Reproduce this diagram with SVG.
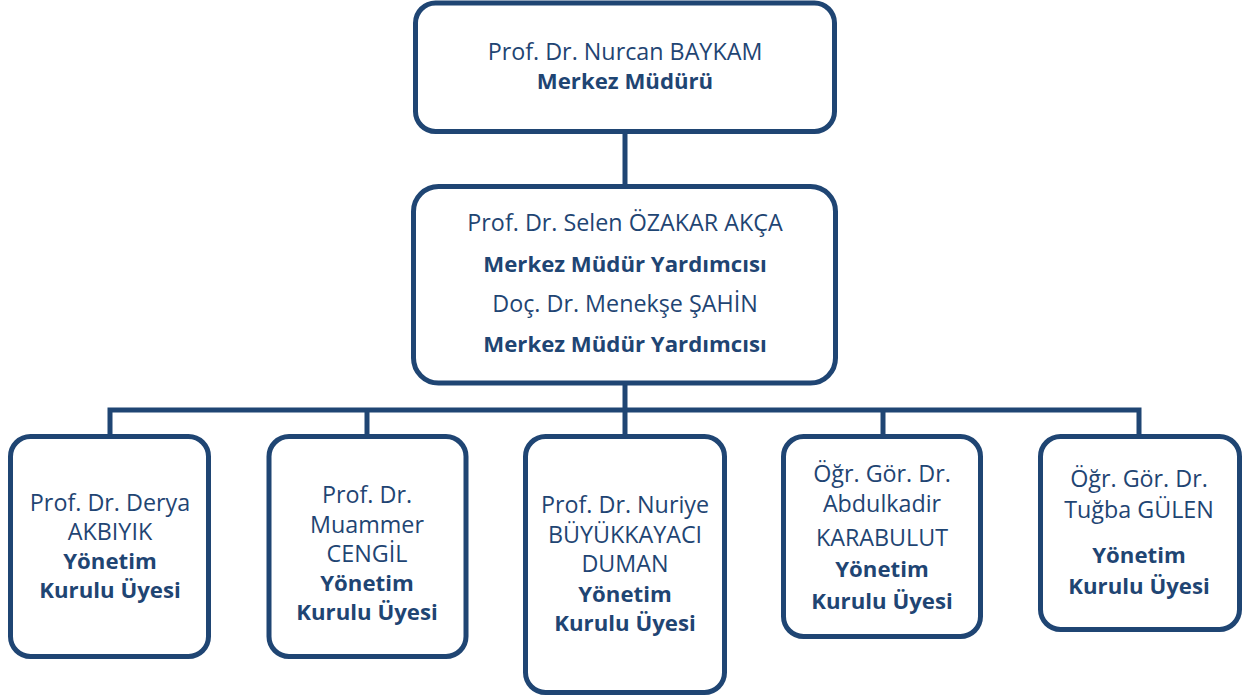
<svg xmlns="http://www.w3.org/2000/svg" width="1247" height="699" viewBox="0 0 1247 699">
<style>
.box{fill:#fff;stroke:#1f4573;stroke-width:5}
.ln{fill:none;stroke:#1f4573;stroke-width:5}
text{font-family:"Open Sans","Noto Sans",sans-serif;fill:#1f4573;text-anchor:middle}
.r{font-size:23.3px}
.b{font-size:22.2px;font-weight:bold}
</style>
<rect width="1247" height="699" fill="#fff"/>
<g id="connectors">
<line class="ln" x1="625" y1="132" x2="625" y2="187"/>
<line class="ln" x1="625" y1="383" x2="625" y2="436"/>
<polyline class="ln" points="110,436 110,410 1139,410 1139,436"/>
<line class="ln" x1="367" y1="410" x2="367" y2="436"/>
<line class="ln" x1="883" y1="410" x2="883" y2="436"/>
</g>
<g id="n_director">
<rect class="box" x="415.5" y="3" width="419" height="128.5" rx="20"/>
<text x="625" y="60" class="r">Prof. Dr. Nurcan BAYKAM</text>
<text x="625" y="89" class="b">Merkez Müdürü</text>
</g>
<g id="n_deputies">
<rect class="box" x="413.5" y="186.5" width="422" height="196.5" rx="25"/>
<text x="625" y="231" class="r">Prof. Dr. Selen ÖZAKAR AKÇA</text>
<text x="625" y="272" class="b">Merkez Müdür Yardımcısı</text>
<text x="625" y="312" class="r">Doç. Dr. Menekşe ŞAHİN</text>
<text x="625" y="352" class="b">Merkez Müdür Yardımcısı</text>
</g>
<g id="n_akbiyik">
<rect class="box" x="10.5" y="436.5" width="198" height="220" rx="20"/>
<text x="110" y="511" class="r">Prof. Dr. Derya</text>
<text x="110" y="540" class="r">AKBIYIK</text>
<text x="110" y="569" class="b">Yönetim</text>
<text x="110" y="598" class="b">Kurulu Üyesi</text>
</g>
<g id="n_cengil">
<rect class="box" x="269" y="436.5" width="197" height="220" rx="20"/>
<text x="367" y="503" class="r">Prof. Dr.</text>
<text x="367" y="533" class="r">Muammer</text>
<text x="367" y="562" class="r">CENGİL</text>
<text x="367" y="591" class="b">Yönetim</text>
<text x="367" y="620" class="b">Kurulu Üyesi</text>
</g>
<g id="n_duman">
<rect class="box" x="525.5" y="436.5" width="199" height="256" rx="20"/>
<text x="625" y="513" class="r">Prof. Dr. Nuriye</text>
<text x="625" y="543" class="r">BÜYÜKKAYACI</text>
<text x="625" y="572" class="r">DUMAN</text>
<text x="625" y="602" class="b">Yönetim</text>
<text x="625" y="631" class="b">Kurulu Üyesi</text>
</g>
<g id="n_karabulut">
<rect class="box" x="783.5" y="436.5" width="197" height="200" rx="20"/>
<text x="882" y="482" class="r">Öğr. Gör. Dr.</text>
<text x="882" y="512" class="r">Abdulkadir</text>
<text x="882" y="546" class="r">KARABULUT</text>
<text x="882" y="577" class="b">Yönetim</text>
<text x="882" y="609" class="b">Kurulu Üyesi</text>
</g>
<g id="n_gulen">
<rect class="box" x="1040.5" y="436.5" width="199" height="193" rx="20"/>
<text x="1139" y="487" class="r">Öğr. Gör. Dr.</text>
<text x="1139" y="518" class="r">Tuğba GÜLEN</text>
<text x="1139" y="563" class="b">Yönetim</text>
<text x="1139" y="594" class="b">Kurulu Üyesi</text>
</g>
</svg>
